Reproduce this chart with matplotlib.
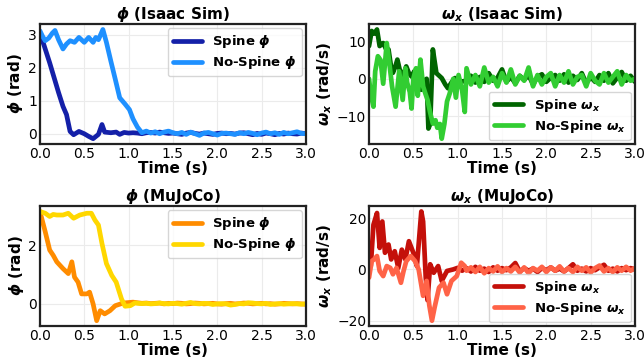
import numpy as np
import matplotlib
matplotlib.use("Agg")
import matplotlib.pyplot as plt

# --- dados ---
# tempo comum da cauda (1.10 s .. 3.00 s, passo 0.05)
tail_t = np.linspace(1.10, 3.00, 39)

# Isaac Sim - phi
isaac_phi_spine_t = [0, 0.05, 0.11, 0.16, 0.21, 0.26, 0.30, 0.34, 0.38, 0.44, 0.50,
                     0.55, 0.60, 0.66, 0.70, 0.73, 0.80, 0.86, 0.90, 0.95, 1.00, 1.05]
isaac_phi_spine_v = [3.05, 2.65, 2.15, 1.70, 1.25, 0.83, 0.58, 0.07, -0.03, 0.07, 0.00,
                     -0.08, -0.15, -0.02, 0.28, 0.05, 0.03, 0.05, -0.02, 0.04, 0.02, 0.03,
                     0.02, 0.00, 0.03, 0.04, 0.02, 0.05, 0.03, 0.01, 0.02, 0.00,
                     -0.02, 0.02, 0.04, 0.01, -0.01, 0.02, 0.00, -0.02, 0.01, 0.02,
                     0.00, 0.01, -0.01, 0.02, 0.03, 0.00, -0.03, 0.01, -0.02, 0.02,
                     0.00, -0.03, 0.01, -0.01, 0.02, 0.00, -0.01, 0.02, 0.00]

isaac_phi_nospine_t = [0, 0.03, 0.06, 0.10, 0.14, 0.17, 0.21, 0.26, 0.30, 0.34, 0.39, 0.44,
                       0.50, 0.55, 0.60, 0.63, 0.66, 0.71, 0.75, 0.80, 0.85, 0.90, 0.96,
                       1.01, 1.05]
isaac_phi_nospine_v = [3.12, 2.95, 2.82, 2.90, 3.05, 3.13, 2.85, 2.57, 2.72, 2.82, 2.77, 2.92,
                       2.77, 2.92, 2.77, 2.92, 2.85, 3.16, 2.77, 2.20, 1.65, 1.09, 0.90,
                       0.73, 0.45,
                       0.20, 0.03, 0.08, 0.02, 0.06, 0.00, 0.05, 0.08, 0.03, 0.00,
                       0.04, -0.02, 0.05, 0.00, -0.05, 0.02, 0.04, 0.00, -0.04, 0.01,
                       0.02, 0.00, -0.02, 0.03, 0.00, 0.04, 0.01, -0.03, 0.02, 0.05,
                       0.00, 0.03, -0.02, 0.04, 0.00, 0.03, 0.06, 0.01, 0.00]

# Isaac Sim - omega_x
isaac_w_spine_t = [0, 0.03, 0.06, 0.09, 0.12, 0.16, 0.19, 0.22, 0.25, 0.27, 0.30, 0.32,
                   0.35, 0.37, 0.40, 0.42, 0.45, 0.48, 0.51, 0.54, 0.57, 0.59, 0.62,
                   0.65, 0.67, 0.69, 0.72, 0.76, 0.82, 0.86, 0.89, 0.93, 0.97, 1.01, 1.05]
isaac_w_spine_v = [8.7, 12.7, 12.0, 13.1, 8.7, 9.5, 8.0, 7.8, 3.0, 1.6, 3.5, 5.1,
                   2.0, 0.2, 2.0, 3.3, 1.5, 0.6, 2.0, 2.4, 1.0, -2.9, -0.5,
                   0.0, -13.2, -12.0, 7.8, 1.5, 0.2, -1.5, -2.5, -1.0, 0.2, -0.5, -0.7,
                   -0.5, 0.8, -1.0, 0.5, -0.8, 1.5, -0.5, 0.3, 2.5, -0.8,
                   0.5, -1.2, 0.8, -0.3, 1.0, -1.5, 0.5, 1.2, -0.8, 0.3,
                   1.0, -0.5, 1.2, -1.0, 0.8, -0.3, 1.5, -1.2, 0.5, -0.8,
                   1.0, -0.5, 1.5, -1.2, 0.3, 1.8, -0.5, 0.8, -0.8]

isaac_w_nospine_t = [0, 0.02, 0.05, 0.07, 0.10, 0.13, 0.16, 0.20, 0.23, 0.26, 0.30, 0.34,
                     0.38, 0.41, 0.43, 0.46, 0.48, 0.50, 0.53, 0.55, 0.58, 0.61, 0.63,
                     0.66, 0.69, 0.72, 0.75, 0.77, 0.80, 0.82, 0.85, 0.88, 0.91, 0.95,
                     0.98, 1.01, 1.05, 1.08]
isaac_w_nospine_v = [0.0, -4.0, -7.4, 2.0, 6.0, 5.0, -1.3, 9.5, 4.0, -2.0, -7.4, 2.0,
                     -5.6, 2.8, -1.0, -3.5, -7.9, 0.0, 2.8, -4.5, 5.1, -2.0, -3.5,
                     -5.6, -9.0, -11.9, -11.0, -13.0, -12.0, -15.9, -12.0, -6.0, -3.9, 0.0,
                     -5.0, 1.0, -3.0, -8.8,
                     2.8, -1.5, 1.0, -2.0, 3.0, -1.0, 0.5, -2.0, 1.5, -1.0,
                     2.5, -1.5, 0.8, -0.5, 3.0, -2.0, 1.0, -1.5, 0.5, 1.5,
                     -2.0, 1.0, -1.0, 2.0, -1.5, 0.5, 1.0, -2.0, 1.5, -0.5,
                     -1.5, 1.5, -1.0, 0.5, 2.0, -1.5, 1.0, -0.5, 0.0]

# MuJoCo - phi
mujoco_phi_spine_t = [0, 0.06, 0.11, 0.15, 0.19, 0.26, 0.32, 0.36, 0.39, 0.43, 0.47,
                      0.53, 0.56, 0.60, 0.64, 0.68, 0.73, 0.79, 0.85, 0.94, 1.05]
mujoco_phi_spine_v = [3.14, 2.45, 1.83, 1.65, 1.43, 1.20, 1.03, 1.43, 0.91, 0.74, 0.34,
                      0.34, 0.40, 0.00, -0.57, -0.23, -0.34, -0.23, -0.06, 0.03, 0.06,
                      0.04, 0.02, 0.03, 0.01, 0.02, 0.03, 0.00, 0.02, 0.01, 0.03,
                      0.02, 0.00, 0.01, 0.03, 0.02, 0.00, 0.01, 0.02, 0.00, -0.01,
                      0.01, 0.02, 0.00, 0.01, 0.03, 0.02, 0.00, 0.01, 0.02, 0.00,
                      0.01, -0.01, 0.00, 0.02, 0.01, 0.00, 0.01, 0.00, -0.01]

mujoco_phi_nospine_t = [0, 0.06, 0.11, 0.15, 0.19, 0.26, 0.32, 0.38, 0.45, 0.53, 0.58,
                        0.62, 0.66, 0.70, 0.75, 0.81, 0.86, 0.92, 0.96, 1.02, 1.07]
mujoco_phi_nospine_v = [3.14, 3.08, 2.97, 3.04, 3.02, 3.02, 3.08, 2.91, 3.02, 3.08, 3.08,
                        2.85, 2.68, 2.05, 1.37, 0.97, 0.74, 0.17, -0.08, -0.06, 0.03,
                        0.02, 0.01, 0.02, 0.00, 0.01, 0.03, 0.01, 0.00, 0.02, 0.01,
                        -0.01, 0.02, 0.05, 0.01, 0.00, 0.02, 0.01, -0.02, 0.00, 0.01,
                        0.00, -0.04, -0.02, 0.01, 0.00, 0.04, 0.03, 0.01, 0.00, 0.02,
                        -0.02, 0.00, 0.01, -0.01, 0.00, 0.01, 0.00, -0.01, 0.00]

# MuJoCo - omega_x
mujoco_w_spine_t = [0, 0.02, 0.05, 0.09, 0.12, 0.15, 0.18, 0.22, 0.25, 0.29, 0.33, 0.37,
                    0.41, 0.45, 0.50, 0.54, 0.59, 0.61, 0.64, 0.66, 0.69, 0.73, 0.78,
                    0.82, 0.88, 0.95, 1.00, 1.05]
mujoco_w_spine_v = [3.2, 1.3, 17.4, 22.0, 8.4, 18.7, 6.5, 9.7, 3.9, 7.1, 0.6, 7.7,
                    3.9, 11.0, 6.5, 1.3, 22.6, 18.7, -3.2, -12.0, 2.0, -1.3, 1.3,
                    -4.5, -0.6, 0.0, 0.6, -0.5,
                    0.5, -0.8, 1.0, -0.5, 0.3, -1.0, 0.8, -0.5, 0.5, -0.3,
                    0.8, 2.5, -0.8, 0.5, -0.5, 0.3, -1.0, 0.5, -0.3, 0.8,
                    -0.5, 0.3, -0.8, 0.5, 2.0, -0.5, 0.3, -0.8, 0.5, -0.3,
                    0.8, 1.8, -0.5, 0.3, -0.8, 0.5, -0.3, 0.5, 0.0]

mujoco_w_nospine_t = [0, 0.03, 0.06, 0.09, 0.12, 0.16, 0.20, 0.24, 0.27, 0.31, 0.36, 0.39,
                      0.42, 0.47, 0.52, 0.56, 0.61, 0.65, 0.68, 0.71, 0.74, 0.79, 0.84,
                      0.88, 0.93, 0.99, 1.04, 1.08]
mujoco_w_nospine_v = [-3.2, 3.2, 4.0, 5.2, -0.6, -2.6, 1.3, 0.6, -1.9, 0.6, -5.2, -0.6,
                      3.2, 5.2, 3.2, 0.0, -10.3, -4.5, -14.0, -20.0, -14.8, -7.1, -5.2,
                      -9.7, -4.5, -2.6, 2.6, 1.3,
                      -0.5, 0.8, -1.0, 1.0, -1.5, 0.5, -0.8, 1.2, -1.0, 0.5,
                      -0.8, 1.0, -1.2, 0.8, -1.5, 0.5, -0.5, 1.0, -1.0, 0.8,
                      -0.5, 1.2, -0.8, 0.5, -1.0, 1.0, -0.5, 0.8, -1.2, 0.5,
                      1.5, -0.8, 0.5, -1.0, 0.8, -0.5, 1.0, -0.5, 0.5]

PHI = r'$\mathbfit{\phi}$'
WX = r'$\mathbfit{\omega}_{\mathbfit{x}}$'

# (posição do eixo, título, ylabel, séries, local da legenda, yticks)
panels = [
    ([0.062, 0.604, 0.413, 0.330], PHI + ' (Isaac Sim)', PHI + ' (rad)',
     [(isaac_phi_spine_t, isaac_phi_spine_v, 'Spine ' + PHI, '#1420a8'),
      (isaac_phi_nospine_t, isaac_phi_nospine_v, 'No-Spine ' + PHI, '#1e90ff')],
     'upper right', [0, 1, 2, 3]),
    ([0.573, 0.604, 0.413, 0.330], WX + ' (Isaac Sim)', WX + ' (rad/s)',
     [(isaac_w_spine_t, isaac_w_spine_v, 'Spine ' + WX, '#006400'),
      (isaac_w_nospine_t, isaac_w_nospine_v, 'No-Spine ' + WX, '#32cd32')],
     'lower right', [-10, 0, 10]),
    ([0.062, 0.104, 0.413, 0.330], PHI + ' (MuJoCo)', PHI + ' (rad)',
     [(mujoco_phi_spine_t, mujoco_phi_spine_v, 'Spine ' + PHI, '#ff8c00'),
      (mujoco_phi_nospine_t, mujoco_phi_nospine_v, 'No-Spine ' + PHI, '#ffd700')],
     'upper right', [0, 2]),
    ([0.573, 0.104, 0.413, 0.330], WX + ' (MuJoCo)', WX + ' (rad/s)',
     [(mujoco_w_spine_t, mujoco_w_spine_v, 'Spine ' + WX, '#c4100a'),
      (mujoco_w_nospine_t, mujoco_w_nospine_v, 'No-Spine ' + WX, '#ff6347')],
     'lower right', [-20, 0, 20]),
]

fig = plt.figure(figsize=(6.44, 3.64), dpi=100)

for rect, title, ylabel, series, loc, yticks in panels:
    ax = fig.add_axes(rect)
    for t_early, vals, label, color in series:
        t = np.concatenate([t_early, tail_t])
        ax.plot(t, vals, color=color, lw=3.4, label=label, solid_capstyle='round')
    ax.set_xlim(0, 3.0)
    ax.set_xticks([0.0, 0.5, 1.0, 1.5, 2.0, 2.5, 3.0])
    ax.set_yticks(yticks)
    ax.grid(True, color='#ebebeb', lw=0.8)
    ax.set_axisbelow(True)
    ax.tick_params(length=0, pad=2, labelsize=10)
    for s in ax.spines.values():
        s.set_linewidth(1.6)
        s.set_color('#222222')
    ax.set_title(title, fontsize=11, fontweight='bold', pad=3)
    ax.set_xlabel('Time (s)', fontsize=11, fontweight='bold', labelpad=0)
    ax.set_ylabel(ylabel, fontsize=11, fontweight='bold', labelpad=2)
    ax.legend(loc=loc, prop={'weight': 'bold', 'size': 9.5}, handlelength=2.2,
              edgecolor='#cccccc', borderaxespad=0.3, labelspacing=0.3)

fig.savefig('out.png', dpi=100)
